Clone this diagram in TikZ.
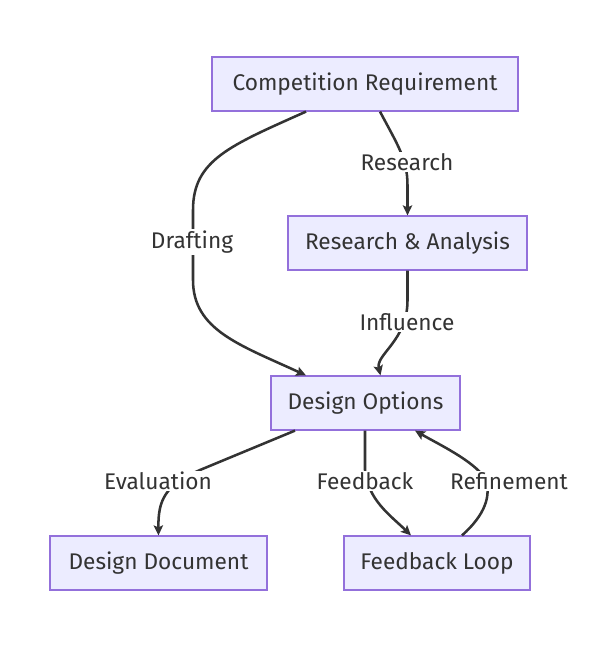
\documentclass[tikz,border=0pt]{standalone}
\usepackage{fontspec}
\setmainfont{Fira Sans}
\usetikzlibrary{arrows.meta,calc}
\definecolor{nodefill}{HTML}{ECECFF}
\definecolor{nodeborder}{HTML}{9370DB}
\definecolor{ink}{HTML}{333333}
\begin{document}
\begin{tikzpicture}[x=0.75pt,y=-0.75pt,
  box/.style={draw=nodeborder,fill=nodefill,line width=0.9pt,text=ink,font=\fontsize{17}{20}\selectfont,inner sep=0pt,minimum height=40.5pt},
  lbl/.style={fill=white,text=ink,font=\fontsize{17}{20}\selectfont,inner sep=1pt},
  conn/.style={draw=ink,line width=1.9pt,-{Stealth[length=7.5pt,width=7pt,inset=1.5pt]}}]
\useasboundingbox (0,0) rectangle (610,657);
\node[box,minimum width=229.5pt] (cr) at (365,84) {Competition Requirement};
\node[box,minimum width=179.25pt] (ra) at (407.5,243) {Research \& Analysis};
\node[box,minimum width=141.75pt] (do) at (365.5,403) {Design Options};
\node[box,minimum width=162.75pt] (dd) at (158.5,563) {Design Document};
\node[box,minimum width=139.5pt] (fl) at (437,563) {Feedback Loop};
% edges
\draw[conn] ($(cr.south)+(15,0)$) .. controls ($(cr.south)+(33,34)$) and ($(ra.north)+(0,-56)$) .. ($(ra.north)+(0,-30)$) -- (ra.north);
\draw[conn] ($(cr.south)+(-59,0)$) .. controls ($(cr.south)+(-135,34)$) and (193,160) .. (193,210) -- (193,280) .. controls (193,330) and (240,345) .. ($(do.north)+(-59.5,0)$);
\draw[conn] (ra.south) -- ($(ra.south)+(0,30)$) .. controls ($(ra.south)+(0,70)$) and ($(do.north)+(10,-21)$) .. ($(do.north)+(15,0)$);
\draw[conn] ($(do.south)+(-70.5,0)$) -- (200,470) .. controls (165,485) and (158,500) .. (dd.north);
\draw[conn] ($(do.south)+(-0.5,0)$) -- (365,470) .. controls (368,500) and (390,515) .. ($(fl.north)+(-26,0)$);
\draw[conn] ($(fl.north)+(25,0)$) .. controls (485,515) and (492,495) .. (485,478) .. controls (472,460) and (440,445) .. ($(do.south)+(49.5,0)$);
% labels
\node[lbl] (l1) at (407,162) {Research};
\node[lbl] (l2) at (192,242) {Drafting};
\node[lbl] (l3) at (407,322) {Influence};
\node[lbl] (l4) at (158,481) {Evaluation};
\node[lbl] (l5) at (365,481) {Feedback};
\node[lbl] (l6) at (509,481) {Refinement};
\end{tikzpicture}
\end{document}
